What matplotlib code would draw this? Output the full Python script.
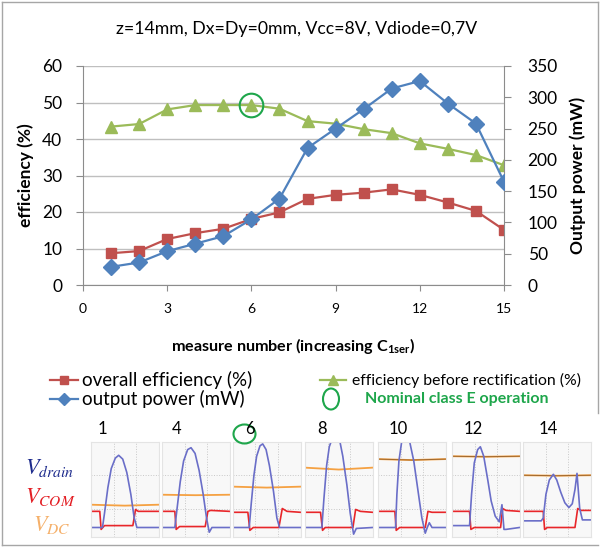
import matplotlib
matplotlib.use("Agg")
import matplotlib.pyplot as plt
from matplotlib.lines import Line2D
from matplotlib.patches import Ellipse

# ---------------- data ----------------
measure = [1, 2, 3, 4, 5, 6, 7, 8, 9, 10, 11, 12, 13, 14, 15]
overall_eff = [8.7, 9.3, 12.6, 14.2, 15.4, 18.1, 19.9, 23.6, 24.7, 25.3, 26.2, 24.7, 22.6, 20.3, 15.1]
eff_before_rect = [43.4, 44.1, 48.1, 49.3, 49.3, 49.3, 48.3, 44.9, 44.2, 42.7, 41.6, 38.8, 37.3, 35.6, 32.8]
output_power = [29, 36, 54, 66, 78, 105, 138, 219, 250, 281, 314, 326, 290, 258, 165]
nominal_x = 6
nominal_y = 49.3

x_ticks = [0, 3, 6, 9, 12, 15]
eff_ticks = [0, 10, 20, 30, 40, 50, 60]
pow_ticks = [0, 50, 100, 150, 200, 250, 300, 350]

title = "z=14mm, Dx=Dy=0mm, Vcc=8V, Vdiode=0,7V"

# waveform snapshots (normalized panel coordinates)
panel_labels = ["1", "4", "6", "8", "10", "12", "14"]
drain_x = [
    [0, 0.17, 0.2, 0.25, 0.3, 0.36, 0.41, 0.47, 0.53, 0.59, 0.64, 0.68, 1.0],
    [0, 0.19, 0.22, 0.27, 0.32, 0.38, 0.43, 0.49, 0.55, 0.61, 0.66, 0.7, 0.74, 1.0],
    [0, 0.24, 0.27, 0.31, 0.35, 0.4, 0.44, 0.49, 0.54, 0.6, 0.65, 0.69, 1.0],
    [0, 0.25, 0.28, 0.32, 0.36, 0.41, 0.46, 0.51, 0.56, 0.62, 0.67, 0.72, 0.76, 1.0],
    [0, 0.26, 0.28, 0.31, 0.35, 0.41, 0.47, 0.53, 0.59, 0.65, 0.7, 0.73, 0.76, 0.8, 1.0],
    [0, 0.26, 0.29, 0.33, 0.38, 0.42, 0.47, 0.53, 0.58, 0.64, 0.7, 0.72, 0.74, 0.77, 0.8, 1.0],
    [0, 0.27, 0.3, 0.34, 0.39, 0.45, 0.5, 0.56, 0.62, 0.68, 0.73, 0.77, 0.8, 0.84, 0.88, 1.0],
]
drain_y = [
    [0.1, 0.1, 0.25, 0.52, 0.72, 0.83, 0.86, 0.82, 0.68, 0.45, 0.2, 0.1, 0.1],
    [0.1, 0.1, 0.28, 0.58, 0.8, 0.92, 0.94, 0.88, 0.7, 0.45, 0.2, 0.05, 0.1, 0.1],
    [0.1, 0.1, 0.35, 0.65, 0.85, 0.96, 0.98, 0.92, 0.75, 0.48, 0.2, 0.1, 0.1],
    [0.1, 0.1, 0.4, 0.75, 0.95, 1.05, 1.07, 1.03, 0.85, 0.55, 0.25, 0.03, 0.09, 0.1],
    [0.1, 0.1, 0.45, 0.8, 1.0, 1.07, 1.0, 0.8, 0.5, 0.2, 0.04, 0.1, 0.15, 0.1, 0.1],
    [0.12, 0.12, 0.45, 0.78, 0.92, 0.95, 0.85, 0.6, 0.38, 0.22, 0.16, 0.25, 0.34, 0.08, 0.08, 0.1],
    [0.17, 0.17, 0.2, 0.45, 0.6, 0.66, 0.6, 0.47, 0.36, 0.31, 0.35, 0.5, 0.67, 0.3, 0.18, 0.18],
]
com_x = [
    [0, 0.13, 0.15, 0.2, 0.62, 0.66, 0.7, 1.0],
    [0, 0.19, 0.21, 0.26, 0.64, 0.68, 0.72, 1.0],
    [0, 0.22, 0.25, 0.3, 0.68, 0.73, 0.8, 1.0],
    [0, 0.23, 0.26, 0.3, 0.71, 0.75, 0.82, 1.0],
    [0, 0.25, 0.27, 0.32, 0.7, 0.74, 0.8, 1.0],
    [0, 0.26, 0.28, 0.33, 0.72, 0.75, 0.8, 1.0],
    [0, 0.3, 0.32, 0.36, 0.77, 0.81, 0.86, 1.0],
]
com_y = [
    [0.27, 0.27, 0.08, 0.12, 0.12, 0.29, 0.27, 0.27],
    [0.27, 0.27, 0.08, 0.11, 0.11, 0.27, 0.28, 0.27],
    [0.26, 0.26, 0.07, 0.1, 0.1, 0.3, 0.27, 0.26],
    [0.26, 0.26, 0.07, 0.1, 0.1, 0.29, 0.27, 0.26],
    [0.27, 0.27, 0.07, 0.1, 0.1, 0.27, 0.26, 0.26],
    [0.27, 0.27, 0.08, 0.1, 0.1, 0.3, 0.28, 0.27],
    [0.27, 0.27, 0.08, 0.1, 0.1, 0.3, 0.28, 0.28],
]
dc_x = [0, 0.5, 1.0]
dc_y = [
    [0.34, 0.33, 0.34],
    [0.445, 0.44, 0.445],
    [0.53, 0.52, 0.53],
    [0.73, 0.71, 0.73],
    [0.82, 0.81, 0.82],
    [0.85, 0.845, 0.85],
    [0.65, 0.645, 0.65],
]
dc_dark = [False, False, False, False, True, True, True]

# ---------------- style / layout ----------------
W, H = 600, 547
plt.rcParams['font.family'] = ['Lato', 'DejaVu Sans']
plt.rcParams['mathtext.fontset'] = 'custom'
plt.rcParams['mathtext.rm'] = 'Lato'
plt.rcParams['mathtext.bf'] = 'Lato:bold'
plt.rcParams['mathtext.it'] = 'Lato:italic'

RED = '#C0504D'
BLUE = '#4F81BD'
GREEN = '#9BBB59'
CIRCLE = '#1EA64B'
AXC = '#8C8C8C'

def fx(px):
    return px / W

def fy(py):
    return 1 - py / H

fig = plt.figure(figsize=(W / 100, H / 100), dpi=100)

# outer frame
frame_c = '#A6A6A6'
fig.add_artist(Line2D([fx(1.5), fx(1.5)], [fy(1.5), fy(545)], color=frame_c, lw=1))
fig.add_artist(Line2D([fx(1.5), fx(598)], [fy(1.5), fy(1.5)], color=frame_c, lw=1))
fig.add_artist(Line2D([fx(598), fx(598)], [fy(1.5), fy(413)], color=frame_c, lw=1))
fig.add_artist(Line2D([fx(1.5), fx(598)], [fy(545), fy(545)], color=frame_c, lw=1))

# main axes
L, R, T, B = 83, 504, 66, 285
ax = fig.add_axes([fx(L), fy(B), (R - L) / W, (B - T) / H])
ax2 = ax.twinx()

ax.set_xlim(0, 15)
ax.set_ylim(0, 60)
ax2.set_ylim(0, 350)
ax.set_xticks(x_ticks)
ax.set_yticks(eff_ticks)
ax2.set_yticks(pow_ticks)

ax.yaxis.grid(True, color='#BFBFBF', lw=1)
ax.set_axisbelow(True)
for a in (ax, ax2):
    a.spines['top'].set_visible(False)
    for s in ('left', 'right', 'bottom'):
        a.spines[s].set_color(AXC)
ax.spines['right'].set_visible(False)
ax2.spines['left'].set_visible(False)
ax2.spines['bottom'].set_visible(False)

ax.tick_params(axis='y', length=5, color=AXC, labelsize=12.5, pad=10)
ax.tick_params(axis='x', length=4, color=AXC, labelsize=10, pad=9)
ax2.tick_params(axis='y', length=5, color=AXC, labelsize=12.5, pad=12)

ax.plot(measure, overall_eff, color=RED, lw=1.6, marker='s', ms=6.5, zorder=3)
ax.plot(measure, eff_before_rect, color=GREEN, lw=1.6, marker='^', ms=8, zorder=3)
ax.plot([nominal_x], [nominal_y], marker='o', ms=17, mfc='none', mec=CIRCLE, mew=1.5, zorder=4)
ax2.plot(measure, output_power, color=BLUE, lw=1.6, marker='D', ms=8, zorder=3)

ax.set_ylabel('efficiency (%)', fontsize=12.5, fontweight='bold', labelpad=6)
ax2.set_ylabel('Output power (mW)', fontsize=12.5, fontweight='bold', labelpad=8)

fig.text(fx(297), fy(29), title, ha='center', va='center', fontsize=12.7)
fig.text(fx(293), fy(346), r'measure number (increasing C$_\mathbf{1ser}$)', ha='center', va='center',
         fontsize=11.6, fontweight='bold')

# legend (manual)
def leg_line(x0, x1, y, color, marker, ms):
    fig.add_artist(Line2D([fx(x0), fx(x1)], [fy(y), fy(y)], color=color, lw=1.6))
    fig.add_artist(Line2D([fx((x0 + x1) / 2)], [fy(y)], color=color, marker=marker, ms=ms, lw=0))

leg_line(50, 78, 380, RED, 's', 6)
fig.text(fx(82), fy(380), 'overall efficiency (%)', ha='left', va='center', fontsize=13.5)
leg_line(50, 78, 399, BLUE, 'D', 6)
fig.text(fx(82), fy(399), 'output power (mW)', ha='left', va='center', fontsize=13.5)
leg_line(320, 346, 380, GREEN, '^', 6.5)
fig.text(fx(352), fy(380), 'efficiency before rectification (%)', ha='left', va='center', fontsize=11.3)
fig.add_artist(Ellipse((fx(331), fy(399)), 16 / W, 21 / H, fill=False, ec=CIRCLE, lw=1.5))
fig.text(fx(365), fy(399), 'Nominal class E operation', ha='left', va='center', fontsize=11.5,
         fontweight='bold', color=CIRCLE)

# waveform panels
panel_left = [91, 162, 233, 305, 378, 452, 523]
panel_w = 67.5
panel_top, panel_bot = 442, 537
label_x = [102, 177, 250, 322, 398, 473, 548]
for i in range(len(panel_labels)):
    wa = fig.add_axes([fx(panel_left[i]), fy(panel_bot), panel_w / W, (panel_bot - panel_top) / H])
    wa.set_facecolor('#F8F8F8')
    for s in wa.spines.values():
        s.set_color('#E4E4E4')
        s.set_linewidth(0.8)
    wa.set_xlim(0, 1)
    wa.set_ylim(0, 1)
    wa.set_xticks([1 / 3, 2 / 3])
    wa.set_yticks([0.3, 0.65])
    wa.tick_params(length=0, labelbottom=False, labelleft=False)
    wa.grid(True, color='#C8C8C8', ls=':', lw=0.7)
    wa.plot(dc_x, dc_y[i], color='#F5A142', lw=1.3)
    if dc_dark[i]:
        wa.plot(dc_x, dc_y[i], color='#8A5A2A', lw=0.7, alpha=0.8)
    wa.plot(com_x[i], com_y[i], color='#E8262A', lw=1.2)
    wa.plot(drain_x[i], drain_y[i], color='#6A6EC8', lw=1.2)
    fig.text(fx(label_x[i]), fy(429), panel_labels[i], ha='center', va='center', fontsize=12)

fig.add_artist(Ellipse((fx(244.5), fy(434)), 22 / W, 19 / H, fill=False, ec=CIRCLE, lw=1.5))

fig.text(fx(25), fy(468), r'$V_{drain}$', color='#1C2A8C', fontsize=16, math_fontfamily='stix',
         ha='left', va='center')
fig.text(fx(25), fy(497), r'$V_{COM}$', color='#E31E24', fontsize=16, math_fontfamily='stix',
         ha='left', va='center')
fig.text(fx(33), fy(525), r'$V_{DC}$', color='#F5B06A', fontsize=16, math_fontfamily='stix',
         ha='left', va='center')

fig.savefig('out.png', dpi=100)
